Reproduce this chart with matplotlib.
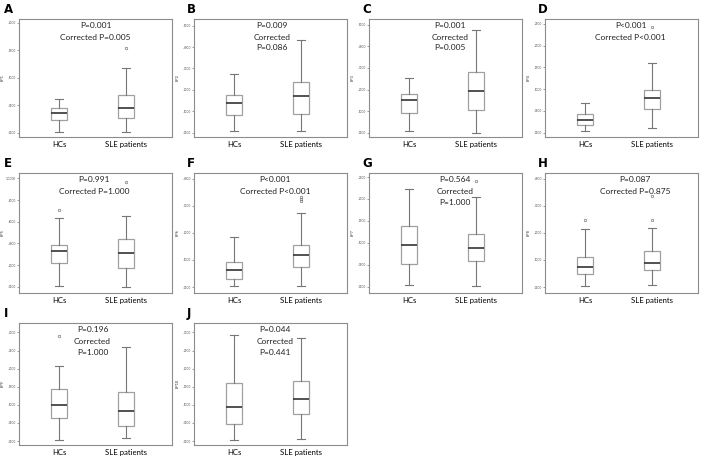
import matplotlib
matplotlib.use("Agg")
import matplotlib.pyplot as plt
from matplotlib.ticker import FuncFormatter

plt.rcParams['font.family'] = ['Lato', 'DejaVu Sans']

# 패널 정보
letters = ["A", "B", "C", "D", "E", "F", "G", "H", "I", "J"]
ylabels = ["EP1", "EP2", "EP3", "EP4", "EP5", "EP6", "EP7", "EP8", "EP9", "EP10"]
groups = ["HCs", "SLE patients"]

p_texts = [
    ["P=0.001", "Corrected P=0.005"],
    ["P=0.009", "Corrected", "P=0.086"],
    ["P=0.001", "Corrected", "P=0.005"],
    ["P<0.001", "Corrected P<0.001"],
    ["P=0.991", "Corrected P=1.000"],
    ["P<0.001", "Corrected P<0.001"],
    ["P=0.564", "Corrected", "P=1.000"],
    ["P=0.087", "Corrected P=0.875"],
    ["P=0.196", "Corrected", "P=1.000"],
    ["P=0.044", "Corrected", "P=0.441"],
]
text_x = [0.50, 0.51, 0.53, 0.56, 0.49, 0.53, 0.56, 0.59, 0.48, 0.53]

# 박스플롯 값 (아래 수염, Q1, 중앙값, Q3, 위 수염)
hc_low = [0.002, 0.009, 0.009, 0.003, 0.009, 0.0025, 0.003, 0.0025, 0.003, 0.003]
hc_q1 = [0.0226, 0.083, 0.092, 0.018, 0.215, 0.030, 0.0515, 0.047, 0.0635, 0.046]
hc_med = [0.035, 0.140, 0.153, 0.028, 0.326, 0.062, 0.0946, 0.073, 0.0985, 0.095]
hc_q3 = [0.044, 0.175, 0.179, 0.042, 0.388, 0.091, 0.138, 0.112, 0.145, 0.159]
hc_high = [0.0616, 0.272, 0.252, 0.068, 0.634, 0.184, 0.222, 0.214, 0.208, 0.292]
hc_out = [[], [], [], [], [0.708], [], [], [0.248], [0.290], []]

sle_low = [0.002, 0.009, 0.000, 0.011, 0.000, 0.0025, 0.001, 0.009, 0.007, 0.005]
sle_q1 = [0.026, 0.089, 0.105, 0.054, 0.169, 0.074, 0.058, 0.062, 0.042, 0.076]
sle_med = [0.0457, 0.171, 0.191, 0.079, 0.310, 0.117, 0.088, 0.088, 0.083, 0.117]
sle_q3 = [0.0677, 0.237, 0.281, 0.099, 0.443, 0.154, 0.120, 0.132, 0.135, 0.167]
sle_high = [0.117, 0.434, 0.477, 0.159, 0.655, 0.273, 0.204, 0.220, 0.260, 0.286]
sle_out = [[0.155], [], [], [0.242], [0.966], [0.318, 0.326, 0.334], [0.240], [0.248, 0.337], [], []]

# 축 눈금
y_ticks = [
    [0, 0.05, 0.10, 0.15, 0.20],
    [0, 0.1, 0.2, 0.3, 0.4, 0.5],
    [0, 0.1, 0.2, 0.3, 0.4, 0.5],
    [0, 0.05, 0.10, 0.15, 0.20, 0.25],
    [0, 0.2, 0.4, 0.6, 0.8, 1.0],
    [0, 0.1, 0.2, 0.3, 0.4],
    [0, 0.05, 0.10, 0.15, 0.20, 0.25],
    [0, 0.1, 0.2, 0.3, 0.4],
    [0, 0.05, 0.10, 0.15, 0.20, 0.25, 0.30],
    [0, 0.05, 0.10, 0.15, 0.20, 0.25, 0.30],
]
y_lims = [
    (-0.008, 0.207), (-0.02, 0.531), (-0.02, 0.527), (-0.01, 0.261), (-0.055, 1.052),
    (-0.021, 0.423), (-0.014, 0.26), (-0.021, 0.423), (-0.011, 0.327), (-0.011, 0.327),
]

W, H = 708, 459
fig = plt.figure(figsize=(W / 100, H / 100), dpi=100)

col_left = [19, 194, 369, 545]
row_top = [19, 172.7, 322.7]
row_bot = [137, 292.7, 445]
box_w = 153

def spss_fmt(v, pos):
    s = "%.4f" % v
    if s.startswith("0"):
        s = s[1:]
    return s

grey = "#8c8c8c"
for i in range(10):
    r, c = divmod(i, 4)
    ax = fig.add_axes([col_left[c] / W, 1 - row_bot[r] / H, box_w / W, (row_bot[r] - row_top[r]) / H])
    stats = [
        dict(whislo=hc_low[i], q1=hc_q1[i], med=hc_med[i], q3=hc_q3[i], whishi=hc_high[i], fliers=hc_out[i]),
        dict(whislo=sle_low[i], q1=sle_q1[i], med=sle_med[i], q3=sle_q3[i], whishi=sle_high[i], fliers=sle_out[i]),
    ]
    ax.bxp(stats, positions=[1, 2], widths=0.25, patch_artist=True, showfliers=True,
           boxprops=dict(facecolor="white", edgecolor="#a0a0a0", linewidth=0.9),
           whiskerprops=dict(color="#777777", linewidth=0.8),
           capprops=dict(color="#777777", linewidth=0.8),
           medianprops=dict(color="#333333", linewidth=1.2),
           flierprops=dict(marker="o", markersize=1.8, markerfacecolor="none",
                           markeredgecolor="#777777", markeredgewidth=0.5),
           capwidths=0.12)
    ax.set_xlim(0.4, 2.69)
    ax.set_ylim(*y_lims[i])
    ax.set_yticks(y_ticks[i])
    ax.yaxis.set_major_formatter(FuncFormatter(spss_fmt))
    ax.tick_params(axis="y", labelsize=2.3, length=1.5, width=0.4, pad=0.5, colors="#555555")
    ax.set_xticks([1, 2])
    ax.set_xticklabels(groups)
    ax.tick_params(axis="x", labelsize=5.6, length=0, pad=3)
    ax.set_ylabel(ylabels[i], fontsize=2.8, color="#333333")
    ax.yaxis.set_label_coords(-0.095, 0.5)
    for sp in ax.spines.values():
        sp.set_color(grey)
        sp.set_linewidth(0.8)
    ys = [0.945, 0.845, 0.755]
    for k, t in enumerate(p_texts[i]):
        ax.text(text_x[i], ys[k], t, transform=ax.transAxes, ha="center", va="center",
                fontsize=6, color="#222222")
    # 패널 글자
    lx = 4 if c == 0 else col_left[c] - 7
    fig.text(lx / W, 1 - (row_top[r] - 16) / H, letters[i], fontsize=8.5, fontweight="bold",
             ha="left", va="top", family=["DejaVu Sans"])

fig.savefig("out.png", dpi=100)
